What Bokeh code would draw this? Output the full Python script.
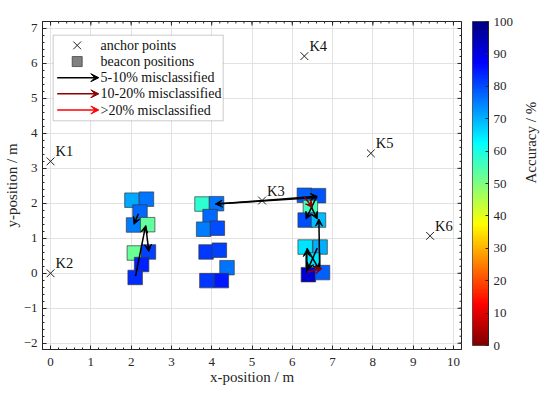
import numpy as np
from bokeh.plotting import figure
from bokeh.layouts import row
from bokeh.models import (ColumnDataSource, LinearColorMapper, FixedTicker,
                          LinearAxis, Arrow, VeeHead, BoxAnnotation, Range1d)
from bokeh.core.properties import value
from bokeh.embed import file_html
from bokeh.resources import INLINE

# ---------------- data ----------------
anchor_names = ["K1", "K2", "K3", "K4", "K5", "K6"]
anchor_x = [0.0, 0.0, 5.25, 6.30, 7.95, 9.42]
anchor_y = [3.20, 0.0, 2.08, 6.21, 3.43, 1.07]

beacon_x = [2.02, 2.38, 2.22, 2.06, 2.41, 2.08, 2.43, 2.26, 2.10,
            3.76, 4.12, 3.96, 3.80, 4.14, 3.86, 4.19, 4.38, 3.88, 4.24,
            6.30, 6.65, 6.45, 6.32, 6.65, 6.32, 6.69, 6.51, 6.40, 6.75]
beacon_y = [2.09, 2.12, 1.75, 1.38, 1.39, 0.58, 0.61, 0.25, -0.12,
            1.98, 1.99, 1.62, 1.26, 1.29, 0.61, 0.66, 0.16, -0.21, -0.21,
            2.23, 2.22, 1.88, 1.52, 1.52, 0.75, 0.75, 0.38, -0.04, 0.02]
beacon_acc = [71, 76, 77, 75, 53, 52, 81, 84, 83,
              58, 76, 77, 75, 80, 82, 81, 76, 82, 85,
              78, 79, 56, 80, 69, 65, 70, 65, 92, 78]

arrow_x0 = [2.18, 2.36, 2.11, 6.62, 4.10, 6.60, 6.29, 6.45, 6.68, 6.36, 6.36, 6.62, 6.37]
arrow_y0 = [1.70, 1.36, -0.08, 2.17, 1.98, 2.18, 2.20, 1.95, 0.12, 0.02, 0.72, 0.72, 0.03]
arrow_x1 = [2.07, 2.44, 2.36, 4.09, 6.62, 6.34, 6.50, 6.62, 6.66, 6.36, 6.68, 6.38, 6.74]
arrow_y1 = [1.40, 0.62, 1.36, 1.98, 2.20, 1.55, 1.88, 1.55, 1.55, 0.68, 0.08, 0.10, 0.14]
arrow_class = ["5-10", "5-10", "5-10", "5-10", "5-10", "5-10", "10-20", "5-10",
               "5-10", "5-10", "5-10", "5-10", "10-20"]

class_names = ["5-10", "10-20", ">20"]
class_colors = ["#000000", "#8B0000", "#FF0000"]
legend_labels = ["anchor points", "beacon positions", "5-10% misclassified",
                 "10-20% misclassified", ">20% misclassified"]

x_ticks = list(range(0, 11))
y_ticks = list(range(-2, 8))
cb_ticks = list(range(0, 101, 10))
cb_low, cb_high = 0, 100
colorbar_title = "Accuracy / %"

# ---------------- style ----------------
FONT = "Liberation Serif"
AX = "#262626"
X_RANGE = (-0.2, 10.2)
Y_RANGE = (-2.18, 7.2)
FW, FH = 419, 328
TOP = 19

def jet(t):
    r = np.clip(1.5 - np.abs(4 * t - 3), 0, 1)
    g = np.clip(1.5 - np.abs(4 * t - 2), 0, 1)
    b = np.clip(1.5 - np.abs(4 * t - 1), 0, 1)
    return "#%02x%02x%02x" % (int(r * 255), int(g * 255), int(b * 255))

palette = [jet(t) for t in np.linspace(1, 0, 256)]
mapper = LinearColorMapper(palette=palette, low=cb_low, high=cb_high)

def px2x(px):
    return X_RANGE[0] + px / FW * (X_RANGE[1] - X_RANGE[0])

def py2y(py):
    return Y_RANGE[1] - py / FH * (Y_RANGE[1] - Y_RANGE[0])

p = figure(frame_width=FW, frame_height=FH,
           x_range=Range1d(*X_RANGE), y_range=Range1d(*Y_RANGE),
           output_backend="svg", toolbar_location=None,
           min_border_left=0, min_border_right=11, min_border_top=TOP, min_border_bottom=0)
p.outline_line_color = AX
p.background_fill_color = "white"

x_minor = list(np.round(np.arange(-0.2, 10.21, 0.2), 2))
y_minor = list(np.round(np.arange(-2.2, 7.21, 0.2), 2))
xt = FixedTicker(ticks=x_ticks, minor_ticks=x_minor)
yt = FixedTicker(ticks=y_ticks, minor_ticks=y_minor)

for ax in (p.xaxis[0], p.yaxis[0]):
    ax.axis_line_color = AX
    ax.major_tick_line_color = AX
    ax.minor_tick_line_color = AX
    ax.major_tick_in = 4
    ax.major_tick_out = 0
    ax.minor_tick_in = 2
    ax.minor_tick_out = 0
    ax.major_label_text_font = FONT
    ax.major_label_text_color = AX
    ax.major_label_text_font_size = "13px"
    ax.axis_label_text_font = FONT
    ax.axis_label_text_font_style = "normal"
    ax.axis_label_text_color = AX
    ax.axis_label_text_font_size = "15px"
p.xaxis.major_label_standoff = 8
p.xaxis.axis_label_standoff = 0
p.yaxis.major_label_standoff = 5
p.yaxis.axis_label_standoff = 1
p.xaxis.ticker = xt
p.yaxis.ticker = yt
p.xaxis.axis_label = "x-position / m"
p.yaxis.axis_label = "y-position / m"

p.grid.grid_line_color = "#e2e2e2"
p.grid.grid_line_width = 1

# inward ticks on top and right frame edges
p.scatter(x=x_ticks, y=[Y_RANGE[1]] * len(x_ticks), marker="dash", angle=np.pi / 2,
          size=8, line_color=AX, line_width=1)
p.scatter(x=x_minor, y=[Y_RANGE[1]] * len(x_minor), marker="dash", angle=np.pi / 2,
          size=4, line_color=AX, line_width=1)
p.scatter(x=[X_RANGE[1]] * len(y_ticks), y=y_ticks, marker="dash",
          size=8, line_color=AX, line_width=1)
p.scatter(x=[X_RANGE[1]] * len(y_minor), y=y_minor, marker="dash",
          size=4, line_color=AX, line_width=1)

# beacons
bsrc = ColumnDataSource(dict(x=beacon_x, y=beacon_y, acc=beacon_acc))
p.scatter("x", "y", source=bsrc, marker="square", size=14.5,
          fill_color={"field": "acc", "transform": mapper},
          line_color="#3a3a3a", line_width=0.7)

# arrows
for cname, ccol in zip(class_names, class_colors):
    idx = [i for i, c in enumerate(arrow_class) if c == cname]
    if not idx:
        continue
    asrc = ColumnDataSource(dict(x0=[arrow_x0[i] for i in idx], y0=[arrow_y0[i] for i in idx],
                                 x1=[arrow_x1[i] for i in idx], y1=[arrow_y1[i] for i in idx]))
    p.add_layout(Arrow(source=asrc, x_start="x0", y_start="y0", x_end="x1", y_end="y1",
                       line_color=ccol, line_width=1.5,
                       end=VeeHead(size=7, fill_color=ccol, line_color=ccol, line_width=1)))

# anchors
asrc = ColumnDataSource(dict(x=anchor_x, y=anchor_y, name=anchor_names))
p.scatter("x", "y", source=asrc, marker="x", size=11, line_color="#222222", line_width=1)
p.text("x", "y", text="name", source=asrc, x_offset=5, y_offset=-10,
       text_font=value(FONT), text_font_size="14.5px", text_color="#111111",
       text_baseline="alphabetic", text_align="left")

# ---------------- legend (drawn in the frame, positions from pixel layout) ----------------
L_LEFT, L_TOP, L_RIGHT, L_BOTTOM = 10.7, 13.7, 180.7, 99.3
ROW0, ROW_STEP = 23.9, 16.15
G_X0, G_X1, G_MID, T_X = 14.7, 56.3, 34.7, 58.0
p.add_layout(BoxAnnotation(left=px2x(L_LEFT), right=px2x(L_RIGHT),
                           top=py2y(L_TOP), bottom=py2y(L_BOTTOM),
                           fill_color="white", fill_alpha=1, line_color=AX, line_width=0.8,
                           level="underlay"))
row_y = [py2y(ROW0 + k * ROW_STEP) for k in range(len(legend_labels))]
p.scatter(x=[px2x(G_MID)], y=[row_y[0]], marker="x", size=11, line_color="#222222", line_width=1)
p.scatter(x=[px2x(G_MID)], y=[row_y[1]], marker="square", size=10, fill_color="#808080",
          line_color="#333333", line_width=0.7)
for k, ccol in enumerate(class_colors):
    hs = ColumnDataSource(dict(x0=[px2x(G_X0)], x1=[px2x(G_X1)], y=[row_y[2 + k]]))
    p.add_layout(Arrow(source=hs, x_start="x0", y_start="y", x_end="x1", y_end="y",
                       line_color=ccol, line_width=1.5,
                       end=VeeHead(size=8, fill_color=ccol, line_color=ccol, line_width=1)))
p.text(x=[px2x(T_X)] * len(legend_labels), y=row_y, text=legend_labels,
       text_font=value(FONT), text_font_size="14px", text_color="#111111",
       text_baseline="middle", text_align="left")

# ---------------- colorbar as its own small figure ----------------
CB_TOP, CB_H = TOP + 2, FH - 4
c = figure(frame_width=16, frame_height=CB_H, x_range=Range1d(0, 1),
           y_range=Range1d(cb_low, cb_high), output_backend="svg", toolbar_location=None,
           min_border_left=0, min_border_right=0, min_border_top=CB_TOP, min_border_bottom=20)
c.xaxis.visible = False
c.yaxis.visible = False
c.grid.visible = False
c.outline_line_color = AX
c.outline_line_width = 0.8
grad = np.linspace(cb_low, cb_high, 256).reshape(-1, 1)
c.image(image=[grad], x=0, y=cb_low, dw=1, dh=cb_high - cb_low, color_mapper=mapper)
cax = LinearAxis(ticker=FixedTicker(ticks=cb_ticks), axis_line_color=AX,
                 major_tick_in=3, major_tick_out=0, minor_tick_in=0, minor_tick_out=0,
                 major_tick_line_color=AX, major_label_standoff=5,
                 major_label_text_font=FONT, major_label_text_font_size="13px",
                 major_label_text_color=AX,
                 axis_label=colorbar_title, axis_label_text_font=FONT,
                 axis_label_text_font_size="15px", axis_label_text_font_style="normal",
                 axis_label_text_color=AX, axis_label_standoff=15)
if "axis_label_orientation" in cax.properties():
    cax.axis_label_orientation = np.pi / 2
c.add_layout(cax, "right")

layout = row(p, c)
open("out.html", "w").write(file_html(layout, INLINE))
